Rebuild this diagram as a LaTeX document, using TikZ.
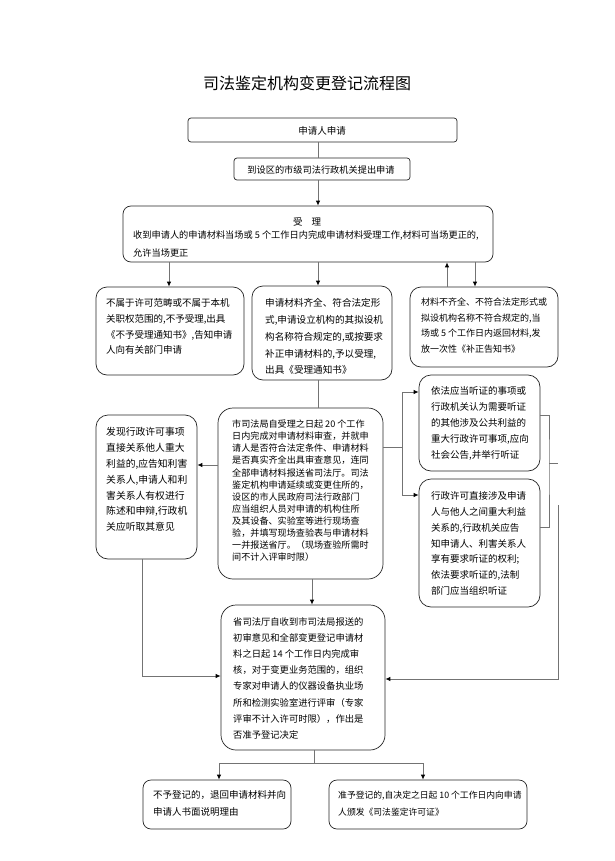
\documentclass[tikz,border=0pt]{standalone}
\usepackage{fontspec}
\newfontfamily\cjk{Noto Sans CJK SC}
\usetikzlibrary{arrows.meta}
\newcommand\myfs[2]{\cjk\fontsize{#1}{#2}\selectfont}
\tikzset{
  box/.style={draw=black!85, line width=0.7pt, inner sep=0pt, rounded corners=#1},
  box/.default=10pt,
  txt/.style={anchor=north west, inner sep=0pt, align=left},
  ctxt/.style={inner sep=0pt},
  conn/.style={draw=black!55, line width=0.9pt},
  arr/.style={conn, -{Latex[length=5pt,width=4.5pt,color=black]}}
}
\begin{document}
\begin{tikzpicture}[x=1pt,y=-1pt]
\fill[white] (0,0) rectangle (615,861);
\useasboundingbox (0,0) rectangle (615,861);

\node[ctxt, font=\myfs{16}{16}] (title) at (307,83) {司法鉴定机构变更登记流程图};

% boxes
\node[box=3pt, minimum width=269pt, minimum height=24pt] (b1) at (322.5,130) {};
\node[box=3pt, minimum width=176pt, minimum height=22pt] (b2) at (322,169) {};
\node[box=8pt, minimum width=370pt, minimum height=56pt] (b3) at (308,234) {};
\node[box=11pt, minimum width=148pt, minimum height=88pt] (b4) at (170,331) {};
\node[box=11pt, minimum width=140pt, minimum height=94pt] (b5) at (322,333) {};
\node[box=11pt, minimum width=148pt, minimum height=80pt] (b6) at (484,327) {};
\node[box=15pt, minimum width=165pt, minimum height=171pt] (b7) at (300.5,493.5) {};
\node[box=12pt, minimum width=101pt, minimum height=144pt] (b11) at (146.5,487) {};
\node[box=12pt, minimum width=121pt, minimum height=96pt] (b12) at (479.5,423) {};
\node[box=12pt, minimum width=121pt, minimum height=128pt] (b13) at (479.5,543) {};
\node[box=15pt, minimum width=164pt, minimum height=145pt] (b8) at (303,677.5) {};
\node[box=8pt, minimum width=148pt, minimum height=49pt] (b9) at (217,804.5) {};
\node[box=8pt, minimum width=198pt, minimum height=49pt] (b10) at (428,804.5) {};

% texts
\node[ctxt, font=\myfs{9.5}{12}] (t1) at (322,131) {申请人申请};
\node[ctxt, font=\myfs{9.2}{12}] (t2) at (321,169.5) {到设区的市级司法行政机关提出申请};
\node[ctxt, font=\myfs{9.5}{12}] (t3a) at (307,221.5) {受\hspace{9pt}理};
\node[txt, font=\myfs{9.2}{18}] (t3) at (133,230.5) {收到申请人的申请材料当场或 5 个工作日内完成申请材料受理工作,材料可当场更正的,\\允许当场更正};
\node[txt, font=\myfs{9.5}{15.7}] (t4) at (106,298.5) {不属于许可范畴或不属于本机\\关职权范围的,不予受理,出具\\《不予受理通知书》,告知申请\\人向有关部门申请};
\node[txt, font=\myfs{9.6}{16.75}] (t5) at (265,298.5) {申请材料齐全、符合法定形\\式,申请设立机构的其拟设机\\构名称符合规定的,或按要求\\补正申请材料的,予以受理,\\出具《受理通知书》};
\node[txt, font=\myfs{9}{15.7}] (t6) at (421,297.5) {材料不齐全、不符合法定形式或\\拟设机构名称不符合规定的,当\\场或 5 个工作日内返回材料,发\\放一次性《补正告知书》};
\node[txt, font=\myfs{9.1}{12.1}] (t7) at (232,419.7) {市司法局自受理之日起 20 个工作\\日内完成对申请材料审查，并就申\\请人是否符合法定条件、申请材料\\是否真实齐全出具审查意见，连同\\全部申请材料报送省司法厅。司法\\鉴定机构申请延续或变更住所的，\\设区的市人民政府司法行政部门\\应当组织人员对申请的机构住所\\及其设备、实验室等进行现场查\\验，并填写现场查验表与申请材料\\一并报送省厅。（现场查验所需时\\间不计入评审时限）};
\node[txt, font=\myfs{9.8}{15.8}] (t11) at (106,427.5) {发现行政许可事项\\直接关系他人重大\\利益的,应告知利害\\关系人,申请人和利\\害关系人有权进行\\陈述和申辩,行政机\\关应听取其意见};
\node[txt, font=\myfs{9.5}{16}] (t12) at (431,386.5) {依法应当听证的事项或\\行政机关认为需要听证\\的其他涉及公共利益的\\重大行政许可事项,应向\\社会公告,并举行听证};
\node[txt, font=\myfs{9.5}{15.8}] (t13) at (431,491.5) {行政许可直接涉及申请\\人与他人之间重大利益\\关系的,行政机关应告\\知申请人、利害关系人\\享有要求听证的权利;\\依法要求听证的,法制\\部门应当组织听证};
\node[txt, font=\myfs{9.3}{16.1}] (t8) at (233,617.5) {省司法厅自收到市司法局报送的\\初审意见和全部变更登记申请材\\料之日起 14 个工作日内完成审\\核，对于变更业务范围的，组织\\专家对申请人的仪器设备执业场\\所和检测实验室进行评审（专家\\评审不计入许可时限），作出是\\否准予登记决定};
\node[txt, font=\myfs{9.5}{17}] (t9) at (153,790.5) {不予登记的，退回申请材料并向\\申请人书面说明理由};
\node[txt, font=\myfs{8.8}{17}] (t10) at (338,790.5) {准予登记的,自决定之日起 10 个工作日内向申请\\人颁发《司法鉴定许可证》};

% helper coordinates
\coordinate (ax) at (318,0);
\coordinate (x4) at (169,0);
\coordinate (xu) at (447,0);
\coordinate (xd) at (475,0);
\coordinate (y11) at (0,465);
\coordinate (x11) at (142,0);
\coordinate (y8l) at (0,676);
\coordinate (yr) at (0,447);
\coordinate (xb) at (402,0);
\coordinate (y12) at (0,392);
\coordinate (y13) at (0,495);
\coordinate (xk) at (549,0);
\coordinate (y12r) at (0,415);
\coordinate (y13r) at (0,527);
\coordinate (ym) at (0,463);
\coordinate (xr) at (558,0);
\coordinate (ytop) at (0,505);
\coordinate (y8r) at (0,679);
\coordinate (x78) at (312,0);
\coordinate (x8) at (314,0);
\coordinate (yj) at (0,763);
\coordinate (x9) at (219,0);
\coordinate (x10) at (423,0);

% connectors
\draw[conn] (b1.south -| ax) -- (b2.north -| ax);
\draw[arr] (b2.south -| ax) -- (b3.north -| ax);
\draw[arr] (b3.south -| x4) -- (b4.north -| x4);
\draw[arr] (b3.south -| ax) -- (b5.north -| ax);
\draw[arr] (b6.north -| xu) -- (b3.south -| xu);
\draw[arr] (b3.south -| xd) -- (b6.north -| xd);
\draw[conn] (b5.south -| ax) -- (b7.north -| ax);
\draw[arr] (b7.west |- y11) -- (b11.east |- y11);
\draw[arr] (b11.south -| x11) |- (b8.west |- y8l);
\draw[conn] (b7.east |- yr) -- (xb |- yr);
\draw[arr] (xb |- yr) |- (b12.west |- y12);
\draw[arr] (xb |- yr) |- (b13.west |- y13);
\draw[conn] (b12.east |- y12r) -| (xk |- ym) |- (b13.east |- y13r);
\draw[conn] (xk |- ym) -- (xr |- ym);
\draw[arr] (xr |- ytop) |- (b8.east |- y8r);
\draw[arr] (b7.south -| x78) -- (b8.north -| x78);
\draw[conn] (b8.south -| x8) -- (x8 |- yj);
\draw[arr] (x8 |- yj) -| (b9.north -| x9);
\draw[arr] (x8 |- yj) -| (b10.north -| x10);
\end{tikzpicture}
\end{document}
